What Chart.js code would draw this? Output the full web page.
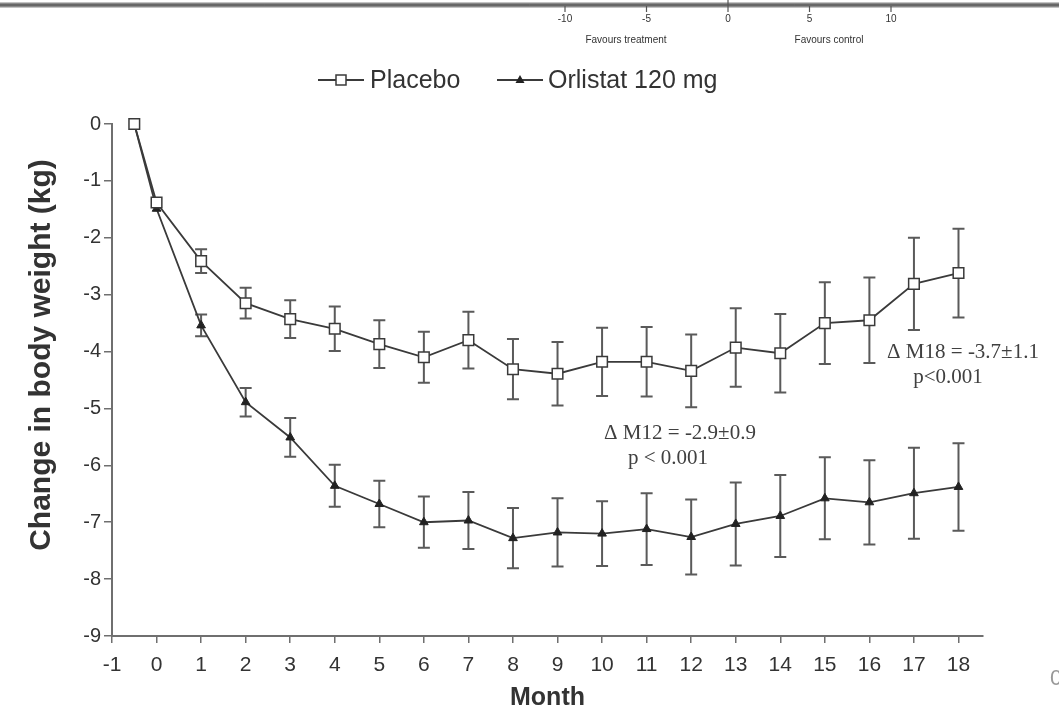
<!DOCTYPE html>
<html>
<head>
<meta charset="utf-8">
<script src="https://cdn.jsdelivr.net/npm/chart.js@4.4.1/dist/chart.umd.min.js"></script>
<style>
  html, body { margin: 0; padding: 0; background: #ffffff; }
  #wrap { width: 1059px; height: 710px; position: relative; }
</style>
</head>
<body>
<div id="wrap"><canvas id="c" width="1059" height="710"></canvas></div>
<script>
// ---- data ----
const months = [-0.5, 0, 1, 2, 3, 4, 5, 6, 7, 8, 9, 10, 11, 12, 13, 14, 15, 16, 17, 18];
const placebo = [0, -1.38, -2.41, -3.15, -3.43, -3.6, -3.87, -4.1, -3.8, -4.31, -4.39, -4.18, -4.18, -4.34, -3.93, -4.03, -3.5, -3.45, -2.81, -2.62];
const placeboErr = [0, 0, 0.21, 0.27, 0.33, 0.39, 0.42, 0.45, 0.5, 0.53, 0.56, 0.6, 0.61, 0.64, 0.69, 0.69, 0.72, 0.75, 0.81, 0.78];
const orlistat = [0, -1.49, -3.54, -4.89, -5.51, -6.36, -6.68, -7.0, -6.97, -7.28, -7.18, -7.2, -7.12, -7.26, -7.03, -6.89, -6.58, -6.65, -6.49, -6.38];
const orlistatErr = [0, 0, 0.19, 0.25, 0.34, 0.37, 0.41, 0.45, 0.5, 0.53, 0.6, 0.57, 0.63, 0.66, 0.73, 0.72, 0.72, 0.74, 0.8, 0.77];
const seriesNames = ['Placebo', 'Orlistat 120 mg'];
const yTitle = 'Change in body weight (kg)';
const xTitle = 'Month';
const annotationLines = [
  ['\u0394 M18 = -3.7\u00b11.1', 'p<0.001'],
  ['\u0394 M12 = -2.9\u00b10.9', 'p < 0.001']
];
const forestTicks = [-10, -5, 0, 5, 10];
const forestCaptions = ['Favours treatment', 'Favours control'];

const SANS = "'Liberation Sans', Arial, sans-serif";
const SERIF = "'Liberation Serif', 'Times New Roman', serif";
const INK = '#333333';
const AXIS = '#6f6f6f';

function pts(vals) { return months.map((m, i) => ({ x: m, y: vals[i] })); }

// error bars
const errorBars = {
  id: 'errorBars',
  beforeDatasetsDraw(chart) {
    const ctx = chart.ctx, xs = chart.scales.x, ys = chart.scales.y;
    const errs = [placeboErr, orlistatErr];
    ctx.save();
    ctx.strokeStyle = '#5a5a5a';
    ctx.lineWidth = 2;
    chart.data.datasets.forEach((ds, di) => {
      ds.data.forEach((p, i) => {
        const e = errs[di][i];
        if (!e) return;
        const px = xs.getPixelForValue(p.x);
        const y1 = ys.getPixelForValue(p.y + e);
        const y2 = ys.getPixelForValue(p.y - e);
        ctx.beginPath();
        ctx.moveTo(px, y1); ctx.lineTo(px, y2);
        ctx.moveTo(px - 6, y1); ctx.lineTo(px + 6, y1);
        ctx.moveTo(px - 6, y2); ctx.lineTo(px + 6, y2);
        ctx.stroke();
      });
    });
    ctx.restore();
  }
};

// legend with line + marker, y title, annotations, and the fragment of the figure above
const decorations = {
  id: 'decorations',
  afterDraw(chart) {
    const ctx = chart.ctx;
    ctx.save();
    // legend
    const items = [{ x0: 318, tx: 370 }, { x0: 497, tx: 548 }];
    const ly = 80;
    chart.data.datasets.forEach((ds, i) => {
      const it = items[i];
      ctx.strokeStyle = '#3a3a3a';
      ctx.lineWidth = 1.8;
      ctx.beginPath(); ctx.moveTo(it.x0, ly); ctx.lineTo(it.x0 + 46, ly); ctx.stroke();
      const cx = it.x0 + 23;
      if (ds.pointStyle === 'rect') {
        ctx.fillStyle = '#fff'; ctx.lineWidth = 1.5;
        ctx.fillRect(cx - 5, ly - 5, 10, 10); ctx.strokeRect(cx - 5, ly - 5, 10, 10);
      } else {
        ctx.fillStyle = '#222';
        ctx.beginPath(); ctx.moveTo(cx, ly - 5); ctx.lineTo(cx + 4.5, ly + 3); ctx.lineTo(cx - 4.5, ly + 3); ctx.closePath(); ctx.fill();
      }
      ctx.fillStyle = INK;
      ctx.font = '25px ' + SANS;
      ctx.textAlign = 'left'; ctx.textBaseline = 'middle';
      ctx.fillText(ds.label, it.tx, ly + 1);
    });
    // y axis title (placed a little above the plot centre, as in the reference)
    ctx.save();
    ctx.translate(42, 355);
    ctx.rotate(-Math.PI / 2);
    ctx.fillStyle = INK;
    ctx.font = 'bold 30px ' + SANS;
    ctx.textAlign = 'center'; ctx.textBaseline = 'middle';
    ctx.fillText(yTitle, 0, 0);
    ctx.restore();
    // annotations
    ctx.fillStyle = '#404040';
    ctx.font = '21px ' + SERIF;
    ctx.textAlign = 'center'; ctx.textBaseline = 'middle';
    ctx.fillText(annotationLines[0][0], 963, 352);
    ctx.fillText(annotationLines[0][1], 948, 377);
    ctx.fillText(annotationLines[1][0], 680, 433);
    ctx.fillText(annotationLines[1][1], 668, 458);
    // fragment of the forest plot above
    ctx.strokeStyle = '#8a8a8a'; ctx.lineWidth = 5;
    ctx.beginPath(); ctx.moveTo(0, 5); ctx.lineTo(1059, 5); ctx.stroke();
    ctx.strokeStyle = '#444'; ctx.lineWidth = 1;
    ctx.beginPath(); ctx.moveTo(0, 5); ctx.lineTo(1059, 5); ctx.stroke();
    ctx.strokeStyle = '#555'; ctx.lineWidth = 1.2;
    forestTicks.forEach((t) => {
      const fx = 728 + t * 16.3;
      ctx.beginPath(); ctx.moveTo(fx, t === 0 ? 0 : 6); ctx.lineTo(fx, 12); ctx.stroke();
      ctx.fillStyle = '#333'; ctx.font = '10px ' + SANS;
      ctx.textAlign = 'center'; ctx.textBaseline = 'middle';
      ctx.fillText(String(t), fx, 19);
    });
    ctx.font = '10px ' + SANS;
    ctx.fillText(forestCaptions[0], 626, 40);
    ctx.fillText(forestCaptions[1], 829, 40);
    // cut-off text at right edge
    ctx.fillStyle = '#999'; ctx.font = '22px ' + SANS; ctx.textAlign = 'left';
    ctx.fillText('0', 1050, 679);
    ctx.restore();
  }
};

new Chart(document.getElementById('c'), {
  type: 'line',
  data: {
    datasets: [
      {
        label: seriesNames[0], data: pts(placebo),
        borderColor: '#3a3a3a', borderWidth: 1.8, tension: 0,
        pointStyle: 'rect', pointRadius: 7.5, pointBackgroundColor: '#ffffff',
        pointBorderColor: '#3a3a3a', pointBorderWidth: 1.5, clip: false
      },
      {
        label: seriesNames[1], data: pts(orlistat),
        borderColor: '#3a3a3a', borderWidth: 1.8, tension: 0,
        pointStyle: 'triangle', pointRadius: 5, pointBackgroundColor: '#222222',
        pointBorderColor: '#222222', pointBorderWidth: 1, clip: false
      }
    ]
  },
  options: {
    responsive: false,
    animation: false,
    layout: { padding: { top: 124, right: 76, left: 0, bottom: 0 } },
    plugins: { legend: { display: false }, tooltip: { enabled: false } },
    scales: {
      x: {
        type: 'linear', min: -1, max: 18.55,
        afterFit(s) { s.height = 74; },
        border: { color: AXIS, width: 2 },
        grid: { drawOnChartArea: false, drawTicks: true, tickLength: 7, color: AXIS, lineWidth: 1.5 },
        ticks: { stepSize: 1, includeBounds: false, color: INK, font: { family: SANS, size: 21 }, padding: 10, maxRotation: 0, autoSkip: false },
        title: { display: true, text: xTitle, color: INK, font: { family: SANS, size: 25, weight: 'bold', lineHeight: 1.0 }, padding: { top: 0, bottom: -1 } }
      },
      y: {
        type: 'linear', min: -9, max: 0,
        afterFit(s) { s.width = 112; },
        border: { color: AXIS, width: 2 },
        grid: { drawOnChartArea: false, drawTicks: true, tickLength: 8, color: AXIS, lineWidth: 1.5 },
        ticks: { stepSize: 1, color: INK, font: { family: SANS, size: 20 }, padding: 3 },
        title: { display: false }
      }
    }
  },
  plugins: [errorBars, decorations]
});
</script>
</body>
</html>
